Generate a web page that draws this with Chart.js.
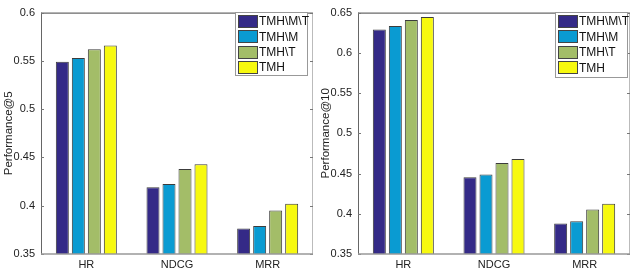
<!DOCTYPE html>
<html>
<head>
<meta charset="utf-8">
<script src="https://cdn.jsdelivr.net/npm/chart.js@4"></script>
<style>
  body { margin: 0; background: #fff; }
  .wrap { position: absolute; top: 0; width: 317px; height: 272px; }
  #w5 { left: 0; }
  #w10 { left: 317px; }
</style>
</head>
<body>
<div class="wrap" id="w5"><canvas id="chart5"></canvas></div>
<div class="wrap" id="w10"><canvas id="chart10"></canvas></div>
<script>
// data
const categories = ['HR', 'NDCG', 'MRR'];
const seriesNames = ['TMH\\M\\T', 'TMH\\M', 'TMH\\T', 'TMH'];
const seriesColors = ['#342a87', '#0a9bd2', '#a3bd68', '#f7f90f'];

// Performance@5
const at5_noMT = [0.549, 0.419, 0.3765];
const at5_noM  = [0.553, 0.4225, 0.379];
const at5_noT  = [0.562, 0.438, 0.395];
const at5_full = [0.566, 0.443, 0.402];
const ticks5 = [0.35, 0.4, 0.45, 0.5, 0.55, 0.6];
const tickLabels5 = ['0.35', '0.4', '0.45', '0.5', '0.55', '0.6'];

// Performance@10
const at10_noMT = [0.629, 0.4455, 0.388];
const at10_noM  = [0.6335, 0.4487, 0.3907];
const at10_noT  = [0.6407, 0.4632, 0.4052];
const at10_full = [0.6444, 0.468, 0.4125];
const ticks10 = [0.35, 0.4, 0.45, 0.5, 0.55, 0.6, 0.65];
const tickLabels10 = ['0.35', '0.4', '0.45', '0.5', '0.55', '0.6', '0.65'];

const FONT = "'Liberation Sans', Arial, Helvetica, sans-serif";

// matlab style box + inward ticks
const boxPlugin = {
  id: 'boxPlugin',
  afterDraw(chart) {
    const ctx = chart.ctx;
    const a = chart.chartArea;
    const y = chart.scales.y;
    ctx.save();
    ctx.lineWidth = 1;
    // top
    ctx.strokeStyle = '#444';
    ctx.beginPath(); ctx.moveTo(a.left, a.top + 0.5); ctx.lineTo(a.right, a.top + 0.5); ctx.stroke();
    // right
    ctx.strokeStyle = '#bbb';
    ctx.beginPath(); ctx.moveTo(a.right - 0.5, a.top); ctx.lineTo(a.right - 0.5, a.bottom); ctx.stroke();
    // left
    ctx.strokeStyle = '#666';
    ctx.beginPath(); ctx.moveTo(a.left + 0.5, a.top); ctx.lineTo(a.left + 0.5, a.bottom); ctx.stroke();
    // ticks
    ctx.strokeStyle = '#777';
    y.ticks.forEach(function (t) {
      const py = Math.round(y.getPixelForValue(t.value)) + 0.5;
      ctx.beginPath(); ctx.moveTo(a.left, py); ctx.lineTo(a.left + 3, py); ctx.stroke();
      ctx.beginPath(); ctx.moveTo(a.right, py); ctx.lineTo(a.right - 3, py); ctx.stroke();
    });
    // bottom
    ctx.strokeStyle = '#999';
    ctx.lineWidth = 1.5;
    ctx.beginPath(); ctx.moveTo(a.left, a.bottom); ctx.lineTo(a.right, a.bottom); ctx.stroke();
    ctx.restore();
  }
};

// legend with a frame, top right inside the axes
const boxLegend = {
  id: 'boxLegend',
  afterDraw(chart, args, opts) {
    const ctx = chart.ctx;
    const a = chart.chartArea;
    ctx.save();
    ctx.font = '12px ' + FONT;
    const w = 72;
    const h = opts.height;
    const rowH = opts.rowH;
    const x0 = Math.round(a.right - opts.gap - w) + 0.5;
    const y0 = 12.5;
    ctx.fillStyle = '#fff';
    ctx.fillRect(x0, y0, w, h);
    ctx.strokeStyle = '#999';
    ctx.lineWidth = 1;
    ctx.strokeRect(x0, y0, w, h);
    chart.data.datasets.forEach(function (d, i) {
      const cy = y0 + 8.5 + i * rowH;
      const by = Math.round(cy - 6) + 0.5;
      ctx.fillStyle = d.backgroundColor;
      ctx.fillRect(x0 + 3, by, 19, 12);
      ctx.strokeStyle = '#444';
      ctx.strokeRect(x0 + 3, by, 19, 12);
      ctx.fillStyle = '#111';
      ctx.textBaseline = 'middle';
      ctx.textAlign = 'left';
      ctx.fillText(d.label, x0 + 23.5, cy + 1);
    });
    ctx.restore();
  }
};

function makeChart(id, series, tickVals, tickLabels, yTitle, legendOpts) {
  const datasets = series.map(function (vals, i) {
    return {
      label: seriesNames[i],
      data: vals,
      backgroundColor: seriesColors[i],
      borderColor: '#3c3c3c',
      borderWidth: 1,
      categoryPercentage: 0.706,
      barPercentage: 0.8125
    };
  });
  return new Chart(document.getElementById(id), {
    type: 'bar',
    data: { labels: categories, datasets: datasets },
    options: {
      responsive: false,
      animation: false,
      maintainAspectRatio: false,
      layout: { padding: { top: 6, right: 4, left: 0, bottom: 0 } },
      plugins: {
        legend: { display: false },
        tooltip: { enabled: false },
        boxLegend: legendOpts
      },
      scales: {
        x: {
          grid: { display: false, drawTicks: false },
          border: { display: false },
          ticks: { color: '#222', font: { family: FONT, size: 11 }, padding: 4 },
          afterFit: function (s) { s.height = 18; }
        },
        y: {
          min: tickVals[0],
          max: tickVals[tickVals.length - 1],
          grid: { display: false, drawTicks: false },
          border: { display: false },
          afterBuildTicks: function (s) {
            s.ticks = tickVals.map(function (v) { return { value: v }; });
          },
          ticks: {
            color: '#222',
            font: { family: FONT, size: 11 },
            padding: 6,
            callback: function (v) {
              const k = tickVals.findIndex(function (t) { return Math.abs(t - v) < 1e-9; });
              return k >= 0 ? tickLabels[k] : '';
            }
          },
          title: {
            display: true,
            text: yTitle,
            color: '#222',
            font: { family: FONT, size: 11.5 },
            padding: { top: 2, bottom: 0 }
          },
          afterFit: function (s) { s.width = 41; }
        }
      }
    },
    plugins: [boxPlugin, boxLegend]
  });
}

document.getElementById('chart5').width = 317;
document.getElementById('chart5').height = 272;
document.getElementById('chart10').width = 317;
document.getElementById('chart10').height = 272;

makeChart('chart5', [at5_noMT, at5_noM, at5_noT, at5_full], ticks5, tickLabels5, 'Performance@5',
  { gap: 6, height: 63, rowH: 15.3 });
makeChart('chart10', [at10_noMT, at10_noM, at10_noT, at10_full], ticks10, tickLabels10, 'Performance@10',
  { gap: 3, height: 65, rowH: 15.4 });
</script>
</body>
</html>
